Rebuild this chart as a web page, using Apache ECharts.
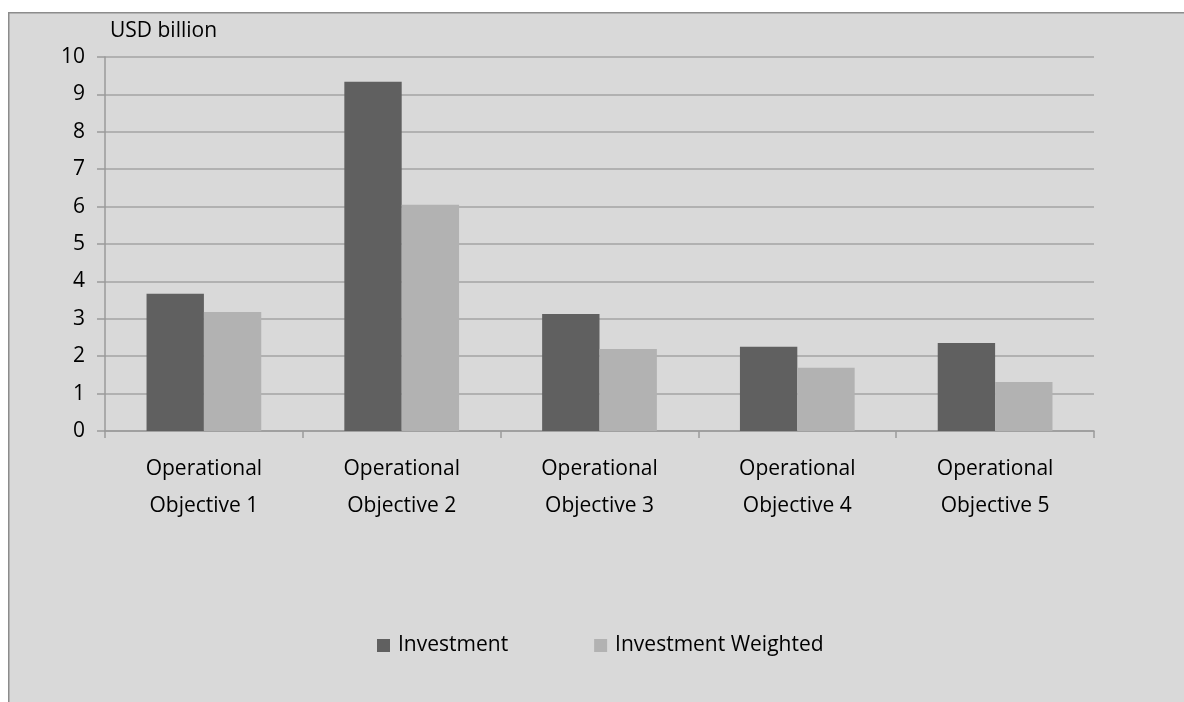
<!DOCTYPE html>
<html><head><meta charset="utf-8">
<script src="https://cdn.jsdelivr.net/npm/echarts@6/dist/echarts.min.js"></script>
<style>html,body{margin:0;padding:0;background:#fff}#c{width:1184px;height:702px}</style>
</head><body><div id="c"></div>
<script>
const categories = ["Operational\nObjective 1","Operational\nObjective 2","Operational\nObjective 3","Operational\nObjective 4","Operational\nObjective 5"];
const investment = [3.67, 9.34, 3.13, 2.25, 2.35];
const investmentWeighted = [3.18, 6.05, 2.19, 1.69, 1.31];
const seriesNames = ["Investment", "Investment Weighted"];
const unitLabel = "USD billion";

const FONT = "Open Sans";
const FS = 21;
const chart = echarts.init(document.getElementById('c'));
chart.setOption({
  backgroundColor: '#ffffff',
  animation: false,
  graphic: [
    {type:'rect', left:8, top:12, z:-10, shape:{width:1200, height:720}, style:{fill:'#d9d9d9', stroke:'#8c8c8c', lineWidth:1.5}},
    {type:'text', left:110, top:21, style:{text:unitLabel, font:FS + 'px "Open Sans"', fill:'#000'}}
  ],
  grid: {left:105, right:90, top:57, bottom:271, containLabel:false},
  legend: {
    data: seriesNames, bottom: 41, left: 372, itemWidth: 13, itemHeight: 13, itemGap: 86, icon: 'rect',
    textStyle: {fontFamily: FONT, fontSize: FS, color:'#000', padding:[0,0,0,3]}
  },
  xAxis: {
    type:'category', data: categories,
    axisLine:{lineStyle:{color:'#9a9a9a', width:1.5}},
    axisTick:{show:true, length:7, lineStyle:{color:'#9a9a9a', width:1.5}},
    axisLabel:{fontFamily:FONT, fontSize:FS, color:'#000', lineHeight:37, margin:20, interval:0}
  },
  yAxis: {
    type:'value', min:0, max:10, interval:1,
    axisLine:{show:true, lineStyle:{color:'#9a9a9a', width:1.5}},
    axisTick:{show:true, length:8, lineStyle:{color:'#9a9a9a', width:1.5}},
    splitLine:{lineStyle:{color:'#a3a3a3', width:1.5}},
    axisLabel:{fontFamily:FONT, fontSize:FS, color:'#000', margin:20}
  },
  series: [
    {name:seriesNames[0], type:'bar', data: investment, itemStyle:{color:'#606060'}, barGap:'0%', barCategoryGap:'42%'},
    {name:seriesNames[1], type:'bar', data: investmentWeighted, itemStyle:{color:'#b2b2b2'}, barGap:'0%', barCategoryGap:'42%'}
  ]
});
</script></body></html>
